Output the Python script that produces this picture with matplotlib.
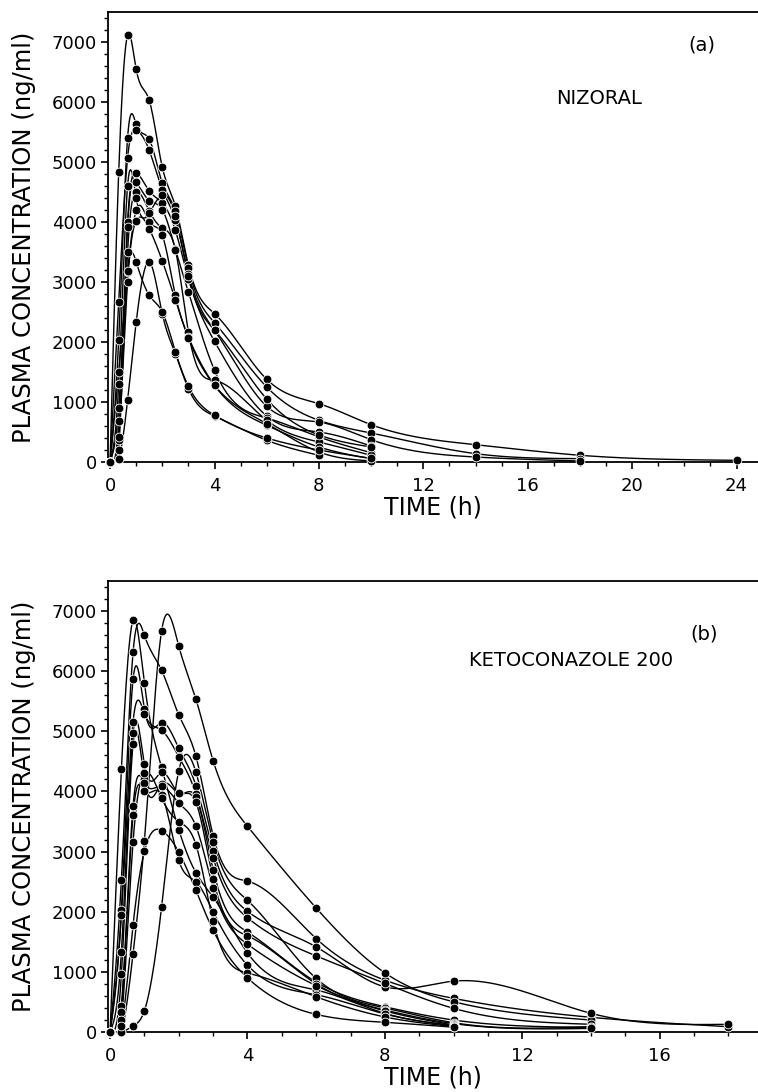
import numpy as np
import matplotlib
matplotlib.use("Agg")
import matplotlib.pyplot as plt
from matplotlib.ticker import MultipleLocator

nan = np.nan

# sampling times (h)
times_a = [0, 0.33, 0.67, 1, 1.5, 2, 2.5, 3, 4, 6, 8, 10, 14, 18, 24]
times_b = [0, 0.33, 0.67, 1, 1.5, 2, 2.5, 3, 4, 6, 8, 10, 14, 18]

# panel (a) NIZORAL, plasma concentration (ng/ml) per subject
niz_01 = [0, 4833, 7117, 6545, 6028, 4911, 4267, 3278, 2472, 1378, 972, 622, 289, 112, 28]
niz_02 = [0, 2039, 5400, 5628, 5378, 4650, 4183, 3233, 2322, 1250, 695, 483, 139, 56, nan]
niz_03 = [0, 2667, 5067, 5528, 5195, 4540, 4040, 3139, 2194, 928, 667, 372, 83, 17, nan]
niz_04 = [0, 678, 4000, 4823, 4517, 4317, 3862, 3056, 2011, 767, 500, 267, nan, nan, nan]
niz_05 = [0, 372, 3917, 4662, 4357, 4206, 3550, 2833, 1528, 733, 417, 156, nan, nan, nan]
niz_06 = [0, 206, 3500, 4500, 4183, 3900, 3539, 2167, 1361, 695, 333, 112, nan, nan, nan]
niz_07 = [0, 1500, 3167, 4195, 4000, 3778, 2778, 2083, 1278, 612, 250, 56, nan, nan, nan]
niz_08 = [0, 417, 3000, 4017, 3890, 3350, 2706, 2067, 1278, 640, 167, 17, nan, nan, nan]
niz_09 = [0, 50, 1028, 2333, 3333, 2472, 1806, 1222, 767, 362, 112, nan, nan, nan, nan]
niz_10 = [0, 900, 3183, 3333, 2778, 2500, 1839, 1261, 778, 400, 200, 60, nan, nan, nan]
niz_11 = [0, 1300, 4600, 4400, 4150, 4450, 4100, 3100, 2200, 1050, 450, 250, nan, nan, nan]

# panel (b) KETOCONAZOLE 200
ket_01 = [0, 4370, 6844, 5799, 4400, 3367, 2648, 2244, 1315, 700, 310, 110, nan, nan]
ket_02 = [0, 2532, 6318, 6595, 6015, 5274, 4582, 3267, 2509, 1553, 862, 559, 244, 88]
ket_03 = [0, 0, 1305, 3184, 6667, 6418, 5534, 4511, 3421, 2061, 983, 503, 199, nan]
ket_04 = [0, 2023, 5866, 5378, 5146, 4721, 4096, 3018, 2007, 1415, 751, 846, 310, 128]
ket_05 = [0, 1952, 5163, 5296, 5019, 4577, 3958, 2900, 1900, 1265, 807, 393, 128, nan]
ket_06 = [0, 1332, 4970, 4456, 4317, 3975, 3902, 2700, 1663, 830, 420, 199, 78, nan]
ket_07 = [0, 0, 100, 353, 2078, 4345, 4317, 3167, 2189, 890, 400, 154, 90, nan]
ket_08 = [0, 957, 4787, 4207, 4124, 3969, 3819, 2549, 1600, 800, 365, 140, 60, nan]
ket_09 = [0, 436, 3765, 4134, 4085, 3809, 3421, 2400, 1459, 770, 350, 116, nan, nan]
ket_10 = [0, 337, 3615, 4013, 3947, 2852, 2500, 2000, 1111, 620, 300, 100, nan, nan]
ket_11 = [0, 200, 3167, 4300, 3892, 3500, 3113, 1841, 983, 585, 250, 90, nan, nan]
ket_12 = [0, 100, 1786, 3007, 3350, 2990, 2355, 1692, 900, 293, 161, 80, nan, nan]

nizoral = [niz_01, niz_02, niz_03, niz_04, niz_05, niz_06, niz_07, niz_08, niz_09, niz_10, niz_11]
keto = [ket_01, ket_02, ket_03, ket_04, ket_05, ket_06, ket_07, ket_08, ket_09, ket_10, ket_11, ket_12]


def natural_spline(x, y, xs):
    # plain natural cubic spline, no scipy here
    x = np.asarray(x, float)
    y = np.asarray(y, float)
    n = len(x)
    h = np.diff(x)
    A = np.zeros((n, n))
    r = np.zeros(n)
    A[0, 0] = A[-1, -1] = 1
    for i in range(1, n - 1):
        A[i, i - 1] = h[i - 1]
        A[i, i] = 2 * (h[i - 1] + h[i])
        A[i, i + 1] = h[i]
        r[i] = 3 * ((y[i + 1] - y[i]) / h[i] - (y[i] - y[i - 1]) / h[i - 1])
    c = np.linalg.solve(A, r)
    b = (y[1:] - y[:-1]) / h - h * (2 * c[:-1] + c[1:]) / 3
    d = (c[1:] - c[:-1]) / (3 * h)
    k = np.clip(np.searchsorted(x, xs) - 1, 0, n - 2)
    dx = xs - x[k]
    return y[k] + b[k] * dx + c[k] * dx ** 2 + d[k] * dx ** 3


def draw_panel(ax, times, subjects, xmin, xmax, letter, letter_xy, name, name_xy):
    for conc in subjects:
        t = np.array(times, float)
        c = np.array(conc, float)
        ok = ~np.isnan(c)
        t, c = t[ok], c[ok]
        ts = np.linspace(0, t[-1], 600)
        cs = np.maximum(natural_spline(t, c, ts), 0)
        ax.plot(ts, cs, color="black", lw=1.0, zorder=2)
    for conc in subjects:
        ax.plot(times, conc, "o", color="black", ms=6.3, mec="white", mew=0.6,
                zorder=3, clip_on=False)

    ax.set_xlim(xmin, xmax)
    ax.set_ylim(0, 7500)
    ax.xaxis.set_major_locator(MultipleLocator(4))
    ax.xaxis.set_minor_locator(MultipleLocator(1))
    ax.yaxis.set_major_locator(MultipleLocator(1000))
    ax.yaxis.set_minor_locator(MultipleLocator(200))
    ax.tick_params(which="major", direction="out", length=5, width=1.2,
                   labelsize=13, pad=3)
    ax.tick_params(which="minor", direction="out", length=3, width=1.0)
    ax.tick_params(axis="x", pad=6)
    ax.spines["right"].set_visible(False)
    for s in ["left", "bottom", "top"]:
        ax.spines[s].set_linewidth(1.3)
    ax.set_xlabel("TIME (h)", fontsize=17, labelpad=0)
    ax.set_ylabel("PLASMA CONCENTRATION (ng/ml)", fontsize=17.5, labelpad=11)
    ax.text(letter_xy[0], letter_xy[1], letter, fontsize=14, va="center")
    ax.text(name_xy[0], name_xy[1], name, fontsize=14, va="center")


fig = plt.figure(figsize=(7.58, 10.92), dpi=100)
ax_a = fig.add_axes([108 / 758, 1 - 462 / 1092, 650 / 758, 450 / 1092])
ax_b = fig.add_axes([108 / 758, 1 - 1032 / 1092, 650 / 758, 451 / 1092])

draw_panel(ax_a, times_a, nizoral, -0.08, 24.82, "(a)", (22.15, 6950),
           "NIZORAL", (17.1, 6060))
draw_panel(ax_b, times_b, keto, -0.06, 18.86, "(b)", (16.9, 6620),
           "KETOCONAZOLE 200", (10.45, 6170))

fig.savefig("out.png", dpi=100)
